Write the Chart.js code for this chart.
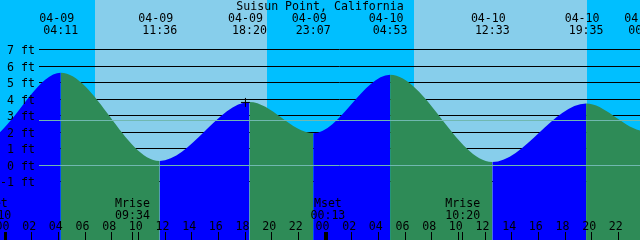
<!DOCTYPE html>
<html>
<head>
<meta charset="utf-8">
<script src="https://cdn.jsdelivr.net/npm/chart.js@4.4.1/dist/chart.umd.min.js"></script>
<style>
  html, body { margin: 0; padding: 0; background: #00bfff; }
  canvas { display: block; }
</style>
</head>
<body>
<canvas id="tide" width="640" height="240"></canvas>
<script>
// Station and tide events (high / low), heights in feet
const stationName = 'Suisun Point, California';
const eventTimes = ['04-08 16:30', '04-08 22:18', '04-09 04:11', '04-09 11:36', '04-09 18:20', '04-09 23:07',
                    '04-10 04:53', '04-10 12:33', '04-10 19:35', '04-11 00:03', '04-11 05:40'];
const eventHeights = [3.9, 1.45, 5.59, 0.24, 3.81, 1.92, 5.47, 0.18, 3.73, 2.05, 5.3];

// Daylight and moon events
const sunriseTimes = ['04-09 06:45', '04-10 06:41'];
const sunsetTimes = ['04-09 19:39', '04-10 19:39'];
const moonNames = ['Mset', 'Mrise', 'Mset', 'Mrise'];
const moonTimes = ['04-08 23:10', '04-09 09:34', '04-10 00:13', '04-10 10:20'];

// Small "+" mark on the curve
const markTime = '04-09 18:02';
const markHeight = 3.79;

// Axes
const hourTicks = [0, 2, 4, 6, 8, 10, 12, 14, 16, 18, 20, 22, 24, 26, 28, 30, 32, 34, 36, 38, 40, 42, 44, 46];
const hourLabels = ['00', '02', '04', '06', '08', '10', '12', '14', '16', '18', '20', '22',
                    '00', '02', '04', '06', '08', '10', '12', '14', '16', '18', '20', '22'];
const ftTicks = [-1, 0, 1, 2, 3, 4, 5, 6, 7];
const ftLabels = ['-1 ft', '0 ft', '1 ft', '2 ft', '3 ft', '4 ft', '5 ft', '6 ft', '7 ft'];
const refLevels = [0, 2.7];

const X_MIN = -0.375, X_MAX = 47.625;   // hours from 04-09 00:00
const Y_MIN = -4.55, Y_MAX = 10;

const FONT = '11.6px "DejaVu Sans Mono", monospace';

// "MM-DD HH:MM" -> hours since 04-09 00:00
function toHours(s) {
    const [md, hm] = s.split(' ');
    const day = parseInt(md.split('-')[1], 10);
    const [h, m] = hm.split(':').map(Number);
    return (day - 9) * 24 + h + m / 60;
}

const overlay = {
    id: 'overlay',
    beforeDraw(chart) {
        const { ctx, chartArea: a, scales: { x, y } } = chart;
        ctx.save();
        ctx.fillStyle = '#00bfff';
        ctx.fillRect(a.left, a.top, a.right - a.left, a.bottom - a.top);
        ctx.fillStyle = '#87ceeb';
        sunriseTimes.forEach((s, i) => {
            const x0 = Math.round(x.getPixelForValue(toHours(s)));
            const x1 = Math.round(x.getPixelForValue(toHours(sunsetTimes[i])));
            ctx.fillRect(x0, a.top, x1 - x0, a.bottom - a.top);
        });
        // black foot lines, under the water
        ctx.strokeStyle = '#000';
        ctx.lineWidth = 1;
        ftTicks.forEach(v => {
            const py = Math.round(y.getPixelForValue(v)) + 0.5;
            ctx.beginPath();
            ctx.moveTo(39, py);
            ctx.lineTo(a.right, py);
            ctx.stroke();
        });
        ctx.restore();
    },
    afterDatasetsDraw(chart) {
        const { ctx, chartArea: a, scales: { x, y } } = chart;
        ctx.save();

        // datum lines over the water
        ctx.strokeStyle = '#70b8b0';
        ctx.lineWidth = 1;
        refLevels.forEach(v => {
            const py = Math.round(y.getPixelForValue(v)) + 0.5;
            ctx.beginPath();
            ctx.moveTo(39, py);
            ctx.lineTo(a.right, py);
            ctx.stroke();
        });

        ctx.fillStyle = '#000';
        ctx.font = FONT;
        ctx.textBaseline = 'alphabetic';

        // title
        ctx.textAlign = 'center';
        ctx.fillText(stationName, 320, 10);

        // high / low labels on top
        eventTimes.forEach(t => {
            const px = x.getPixelForValue(toHours(t));
            if (px < -40 || px > a.right + 40) return;
            const [md, hm] = t.split(' ');
            ctx.fillText(md, px - 4, 22);
            ctx.fillText(hm, px, 34);
        });

        // foot labels
        ctx.textAlign = 'right';
        ftTicks.forEach((v, i) => {
            const py = Math.round(y.getPixelForValue(v)) + 0.5;
            ctx.fillText(ftLabels[i], 35, py + 4);
        });

        // moon events
        ctx.textAlign = 'center';
        moonTimes.forEach((t, i) => {
            const px = x.getPixelForValue(toHours(t));
            ctx.fillText(moonNames[i], px, 207);
            ctx.fillText(t.split(' ')[1], px, 218.5);
            ctx.fillRect(Math.round(px - 0.5), 232, 1, 8);
        });

        // hour ticks and labels
        hourTicks.forEach((h, i) => {
            const px = x.getPixelForValue(h);
            const w = h % 24 === 0 ? 3 : 1;
            ctx.fillRect(Math.round(px - w / 2), 232, w, 8);
            ctx.fillText(hourLabels[i], px - 2.5, 230);
        });

        ctx.restore();
    }
};

const fixRange = s => { s.min = X_MIN; s.max = X_MAX; };

new Chart(document.getElementById('tide'), {
    type: 'line',
    data: {
        datasets: [
            {
                type: 'scatter',
                data: [{ x: toHours(markTime), y: markHeight }],
                pointStyle: 'cross',
                pointRadius: 4.5,
                borderColor: '#000',
                borderWidth: 1,
                order: 0
            },
            {
                data: eventTimes.map((t, i) => ({ x: toHours(t), y: eventHeights[i] })),
                cubicInterpolationMode: 'monotone',
                fill: 'start',
                borderWidth: 0,
                borderColor: 'rgba(0,0,0,0)',
                pointRadius: 0,
                backgroundColor: '#2e8b57',
                segment: {
                    // rising water blue, falling water green
                    backgroundColor: c => (c.p1.y < c.p0.y ? '#0000ff' : '#2e8b57')
                },
                order: 1
            }
        ]
    },
    options: {
        responsive: false,
        animation: false,
        events: [],
        layout: { padding: 0, autoPadding: false },
        plugins: {
            legend: { display: false },
            tooltip: { enabled: false }
        },
        scales: {
            x: {
                type: 'linear',
                display: false,
                bounds: 'data',
                afterDataLimits: fixRange,
                afterBuildTicks: fixRange
            },
            y: {
                type: 'linear',
                display: false,
                min: Y_MIN,
                max: Y_MAX
            }
        }
    },
    plugins: [overlay]
});
</script>
</body>
</html>
